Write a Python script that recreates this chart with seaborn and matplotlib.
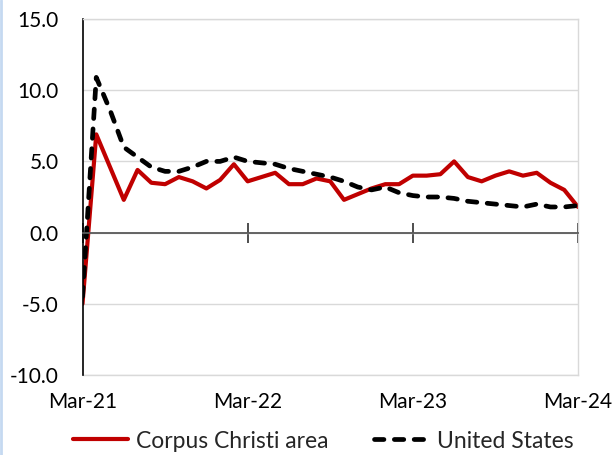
import matplotlib
matplotlib.use("Agg")
import matplotlib.pyplot as plt
import seaborn as sns
import pandas as pd
from matplotlib.lines import Line2D

# ---- data ----
months = list(range(37))  # Mar-21 ... Mar-24, monthly
tick_pos = [0, 12, 24, 36]
tick_labels = ["Mar-21", "Mar-22", "Mar-23", "Mar-24"]
corpus = [-5.0, 6.9, 4.6, 2.3, 4.4, 3.5, 3.4, 3.9, 3.6, 3.1, 3.7, 4.8, 3.6,
          3.9, 4.2, 3.4, 3.4, 3.8, 3.6, 2.3, 2.7, 3.1, 3.4, 3.4, 4.0, 4.0,
          4.1, 5.0, 3.9, 3.6, 4.0, 4.3, 4.0, 4.2, 3.5, 3.0, 1.8]
us = [-4.5, 10.9, 8.6, 6.0, 5.3, 4.6, 4.3, 4.3, 4.6, 5.0, 5.0, 5.3, 5.0,
      4.9, 4.8, 4.5, 4.3, 4.1, 3.9, 3.6, 3.2, 3.0, 3.2, 2.8, 2.6, 2.5,
      2.5, 2.4, 2.2, 2.1, 2.0, 1.9, 1.8, 2.0, 1.8, 1.8, 1.9]
y_ticks = [-10, -5, 0, 5, 10, 15]
series_names = ["Corpus Christi area", "United States"]

df = pd.DataFrame({"month": months * 2,
                   "value": corpus + us,
                   "series": [series_names[0]] * len(months) + [series_names[1]] * len(months)})

sns.set_style("white")
plt.rcParams["font.family"] = ["Lato", "DejaVu Sans"]

fig = plt.figure(figsize=(6.16, 4.55), dpi=100)
ax = fig.add_axes([82.5 / 616, 1 - 375 / 455, (578 - 82.5) / 616, (375 - 19) / 455])

red = "#C00000"
DASH = (2.0, 2.2)
sns.lineplot(data=df[df.series == series_names[0]], x="month", y="value",
             color=red, lw=3.0, ax=ax, legend=False,
             solid_capstyle="round", solid_joinstyle="round")
sns.lineplot(data=df[df.series == series_names[1]], x="month", y="value",
             color="black", lw=3.4, ax=ax, legend=False)
ax.lines[-1].set_dashes(DASH)
ax.lines[-1].set_dash_capstyle("round")
ax.lines[-1].set_dash_joinstyle("round")

ax.set_xlim(0, 36)
ax.set_ylim(-10, 15)
ax.set_xlabel("")
ax.set_ylabel("")

# y axis
ax.set_yticks(y_ticks)
ax.set_yticklabels([f"{v:.1f}" for v in y_ticks])
ax.tick_params(axis="y", left=False, length=0, pad=17, labelsize=15, colors="black")
ax.yaxis.grid(True, color="#d9d9d9", lw=1.0)
ax.set_axisbelow(True)

# spines
ax.spines["left"].set_color("black")
ax.spines["left"].set_linewidth(1.2)
for s in ["top", "right"]:
    ax.spines[s].set_visible(True)
    ax.spines[s].set_color("#d9d9d9")
    ax.spines[s].set_linewidth(1.0)
ax.spines["bottom"].set_position(("data", 0))
ax.spines["bottom"].set_color("#595959")
ax.spines["bottom"].set_linewidth(1.3)
ax.set_xticks(tick_pos)
ax.tick_params(axis="x", bottom=True, direction="inout", length=14, width=1.3,
               color="#404040", labelbottom=False)

# labels at the bottom of plot area
sec = ax.secondary_xaxis("bottom")
sec.set_xticks(tick_pos, tick_labels)
sec.tick_params(axis="x", length=0, pad=12, labelsize=15, colors="black")
sec.spines["bottom"].set_color("#d9d9d9")
sec.spines["bottom"].set_linewidth(1.0)

# legend
handles = [Line2D([], [], color=red, lw=3.0, solid_capstyle="round"),
           Line2D([], [], color="black", lw=3.4, dashes=DASH, dash_capstyle="round")]
fig.legend(handles, series_names, loc="center", bbox_to_anchor=(0.525, 1 - 441 / 455),
           ncol=2, frameon=False, fontsize=16.5, handlelength=2.4, handletextpad=0.35,
           columnspacing=2.0)

# left light-blue border of the frame
fig.add_artist(Line2D([0.002, 0.002], [0, 1], transform=fig.transFigure,
                      color="#c5d9f1", lw=2))

fig.savefig("out.png", dpi=100)
